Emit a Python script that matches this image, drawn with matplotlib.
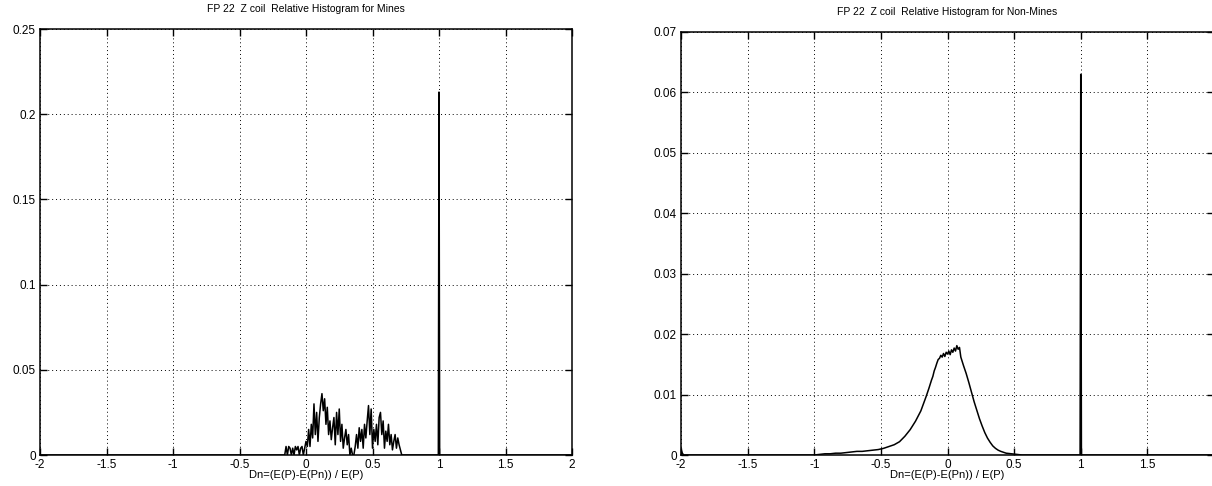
import numpy as np
import matplotlib.pyplot as plt

plt.rcParams['font.family'] = ['Liberation Sans', 'DejaVu Sans']
plt.rcParams['axes.unicode_minus'] = False

# Mines histogram (bin width 0.01)
mines_x = np.round(np.arange(-0.16, 0.725, 0.01), 2)
mines_y = [0.000,
           0.005, 0.000, 0.005, 0.004, 0.000, 0.004, 0.000, 0.005, 0.003, 0.005,
           0.000, 0.004, 0.005, 0.000, 0.004, 0.008, 0.005, 0.015, 0.005, 0.018,
           0.010, 0.030, 0.012, 0.025, 0.008, 0.022, 0.030, 0.036, 0.026, 0.033,
           0.018, 0.028, 0.012, 0.020, 0.009, 0.016, 0.022, 0.006, 0.025, 0.012,
           0.027, 0.008, 0.018, 0.004, 0.010, 0.015, 0.006, 0.012, 0.000, 0.004,
           0.000, 0.000, 0.005, 0.012, 0.004, 0.016, 0.008, 0.015, 0.004, 0.018,
           0.010, 0.020, 0.029, 0.012, 0.027, 0.004, 0.015, 0.008, 0.018, 0.006,
           0.022, 0.025, 0.012, 0.020, 0.004, 0.014, 0.008, 0.018, 0.006, 0.012,
           0.003, 0.008, 0.012, 0.004, 0.010, 0.006, 0.003, 0.000]
mines_spike = 0.213

# Non-mines histogram
nonmines_x = [-2.00, -1.99, -1.98,
              -1.00, -0.96, -0.92, -0.88, -0.84, -0.80, -0.76, -0.72, -0.68, -0.64,
              -0.60, -0.56, -0.52, -0.48, -0.44, -0.40, -0.36, -0.32, -0.28, -0.24,
              -0.20, -0.18, -0.16, -0.14, -0.12, -0.11, -0.10, -0.09, -0.08, -0.07,
              -0.06, -0.05, -0.04, -0.03, -0.02, -0.01, 0.00, 0.01, 0.02, 0.03,
              0.04, 0.05, 0.06, 0.07, 0.08, 0.09, 0.10, 0.11, 0.12, 0.14,
              0.16, 0.18, 0.20, 0.22, 0.24, 0.26, 0.28, 0.30, 0.32, 0.34,
              0.36, 0.38, 0.40, 0.44, 0.48, 0.52, 0.56, 0.60]
nonmines_y = [0.0010, 0.0003, 0.0000,
              0.0000, 0.0001, 0.0002, 0.0002, 0.0003, 0.0003, 0.0004, 0.0005, 0.0006, 0.0006,
              0.0007, 0.0008, 0.0009, 0.0011, 0.0014, 0.0017, 0.0022, 0.0031, 0.0042, 0.0056,
              0.0073, 0.0085, 0.0097, 0.0110, 0.0124, 0.0130, 0.0139, 0.0145, 0.0152, 0.0158,
              0.0160, 0.0165, 0.0162, 0.0168, 0.0163, 0.0170, 0.0167, 0.0172, 0.0166, 0.0174,
              0.0170, 0.0177, 0.0172, 0.0181, 0.0175, 0.0178, 0.0162, 0.0155, 0.0148, 0.0135,
              0.0120, 0.0104, 0.0088, 0.0074, 0.0060, 0.0048, 0.0037, 0.0028, 0.0021, 0.0015,
              0.0011, 0.0008, 0.0006, 0.0003, 0.0002, 0.0001, 0.0000, 0.0000]
nonmines_spike = 0.063

xticks = [-2, -1.5, -1, -0.5, 0, 0.5, 1, 1.5, 2]
xticklabels = ['-2', '-1.5', '-1', '-0.5', '0', '0.5', '1', '1.5', '2']
mines_yticks = [0, 0.05, 0.1, 0.15, 0.2, 0.25]
mines_yticklabels = ['0', '0.05', '0.1', '0.15', '0.2', '0.25']
nonmines_yticks = [0, 0.01, 0.02, 0.03, 0.04, 0.05, 0.06, 0.07]
nonmines_yticklabels = ['0', '0.01', '0.02', '0.03', '0.04', '0.05', '0.06', '0.07']

titles = ['FP 22  Z coil  Relative Histogram for Mines',
          'FP 22  Z coil  Relative Histogram for Non-Mines']
xlabel = 'Dn=(E(P)-E(Pn)) / E(P)'

W, H = 1212, 486
fig = plt.figure(figsize=(W / 100, H / 100), dpi=100)
ax1 = fig.add_axes([40 / W, 1 - 455 / H, 532 / W, 426 / H])
ax2 = fig.add_axes([681 / W, 1 - 455 / H, 533 / W, 423 / H])

x1 = np.concatenate([[-2.0], mines_x, [0.995, 1.0, 1.005, 2.0]])
y1 = np.concatenate([[0.0], mines_y, [0.0, mines_spike, 0.0, 0.0]])
ax1.plot(x1, y1, color='black', lw=1.1)

x2 = np.concatenate([nonmines_x, [0.995, 1.0, 1.005, 2.0]])
y2 = np.concatenate([nonmines_y, [0.0, nonmines_spike, 0.0, 0.0]])
ax2.plot(x2, y2, color='black', lw=1.1)

for ax, title, yt, ytl, top in [(ax1, titles[0], mines_yticks, mines_yticklabels, 0.25),
                                (ax2, titles[1], nonmines_yticks, nonmines_yticklabels, 0.07)]:
    ax.set_xlim(-2, 2)
    ax.set_ylim(0, top)
    ax.set_xticks(xticks)
    ax.set_xticklabels(xticklabels)
    ax.set_yticks(yt)
    ax.set_yticklabels(ytl)
    ax.tick_params(direction='in', length=5, width=1, labelsize=8.5, pad=3,
                   top=True, right=True, colors='black')
    ax.grid(True, color='black', linestyle=(0, (1, 3)), linewidth=0.7)
    for s in ax.spines.values():
        s.set_linewidth(1.1)
        s.set_color('black')
    ax.set_title(title, fontsize=7.5, pad=12.5)
    ax.set_xlabel(xlabel, fontsize=8, labelpad=-1)

# the right plot runs past the image edge, so its last label is not shown
ax2.set_xticklabels(xticklabels[:-1] + [''])

fig.savefig('out.png', dpi=100)
